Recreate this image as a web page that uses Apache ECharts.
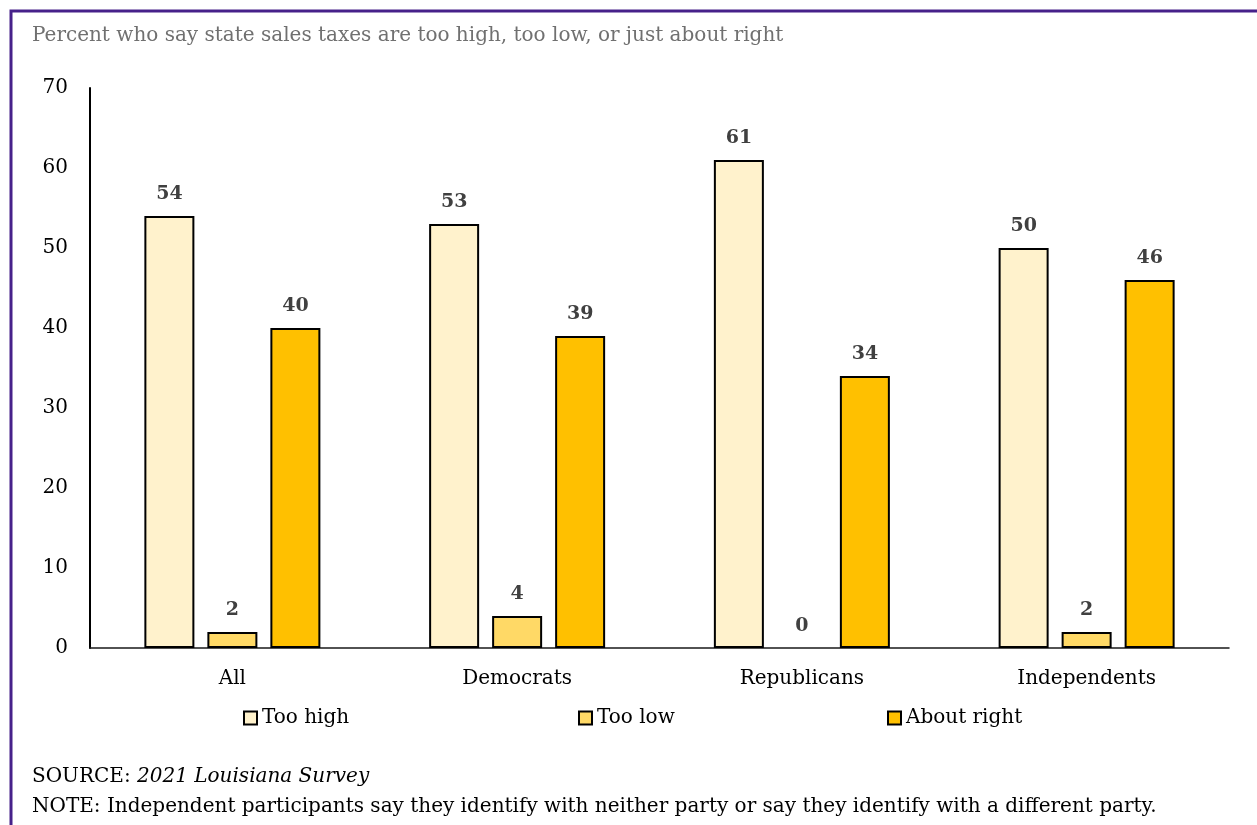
<!DOCTYPE html>
<html>
<head>
<meta charset="utf-8">
<script src="https://cdn.jsdelivr.net/npm/echarts@6/dist/echarts.min.js"></script>
<style>
  html, body { margin: 0; padding: 0; background: #fff; }
  #chart { width: 1257px; height: 825px; }
</style>
</head>
<body>
<div id="chart"></div>
<script>
// Survey groups and responses (percent)
const categories = ['All', 'Democrats', 'Republicans', 'Independents'];
const tooHigh = [54, 53, 61, 50];
const tooLow = [2, 4, 0, 2];
const aboutRight = [40, 39, 34, 46];
const seriesNames = ['Too high', 'Too low', 'About right'];
const yTicks = { min: 0, max: 70, interval: 10 };

const FONT = "'DejaVu Serif', serif";
const FS = 20;
const colors = ['#FFF2CC', '#FFD966', '#FFC000'];
const values = [tooHigh, tooLow, aboutRight];

const chart = echarts.init(document.getElementById('chart'));

const series = seriesNames.map((name, i) => ({
  name: name,
  type: 'bar',
  // zero-height bars get no outline
  data: values[i].map(v => ({ value: v, itemStyle: { borderWidth: v === 0 ? 0 : 2 } })),
  barWidth: 50,
  barGap: '26%',
  itemStyle: { color: colors[i], borderColor: '#000', borderWidth: 2 },
  label: {
    show: true,
    position: 'top',
    distance: 12,
    fontFamily: FONT,
    fontSize: 19,
    fontWeight: 'bold',
    color: '#404040'
  },
  emphasis: { disabled: true }
}));

const legendLefts = [243, 578, 887];
const legends = seriesNames.map((name, i) => ({
  data: [name],
  left: legendLefts[i],
  top: 708,
  padding: 0,
  itemWidth: 13,
  itemHeight: 13,
  itemGap: 0,
  icon: 'rect',
  selectedMode: false,
  textStyle: { fontFamily: FONT, fontSize: FS, color: '#000' }
}));

chart.setOption({
  animation: false,
  backgroundColor: '#fff',
  grid: { left: 90, right: 28, top: 88, bottom: 177 },
  legend: legends,
  xAxis: {
    type: 'category',
    data: categories,
    axisLine: { lineStyle: { color: '#1a1a1a', width: 1.5 } },
    axisTick: { show: false },
    axisLabel: { fontFamily: FONT, fontSize: FS, color: '#000', margin: 21 }
  },
  yAxis: {
    type: 'value',
    min: yTicks.min,
    max: yTicks.max,
    interval: yTicks.interval,
    axisLine: { show: true, lineStyle: { color: '#000', width: 2 } },
    axisTick: { show: false },
    splitLine: { show: false },
    axisLabel: { fontFamily: FONT, fontSize: FS, color: '#000', margin: 22 }
  },
  series: series,
  graphic: [
    {
      type: 'rect',
      silent: true,
      shape: { x: 11, y: 11, width: 1400, height: 1000 },
      style: { fill: 'none', stroke: '#46218A', lineWidth: 3 }
    },
    {
      type: 'text',
      x: 32,
      y: 36,
      style: {
        text: 'Percent who say state sales taxes are too high, too low, or just about right',
        font: FS + "px " + FONT,
        fill: '#707070',
        verticalAlign: 'middle'
      }
    },
    {
      type: 'text',
      x: 32,
      y: 777,
      style: {
        text: '{a|SOURCE: }{b|2021 Louisiana Survey}',
        verticalAlign: 'middle',
        rich: {
          a: { fontFamily: FONT, fontSize: FS, fill: '#000', color: '#000' },
          b: { fontFamily: FONT, fontSize: FS, fontStyle: 'italic', fill: '#000', color: '#000' }
        }
      }
    },
    {
      type: 'text',
      x: 32,
      y: 807,
      style: {
        text: 'NOTE: Independent participants say they identify with neither party or say they identify with a different party.',
        font: FS + "px " + FONT,
        fill: '#000',
        verticalAlign: 'middle'
      }
    }
  ]
});
</script>
</body>
</html>
